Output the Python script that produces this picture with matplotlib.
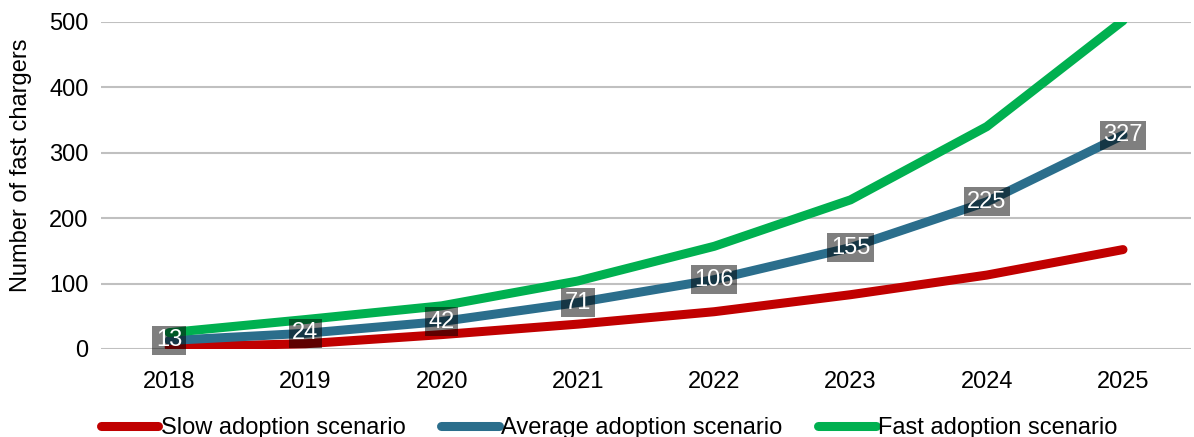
import numpy as np
import matplotlib
matplotlib.use("Agg")
import matplotlib.pyplot as plt

plt.rcParams['font.family'] = ['Liberation Sans', 'DejaVu Sans']

years = ['2018', '2019', '2020', '2021', '2022', '2023', '2024', '2025']
slow = [3, 8, 22, 38, 57, 83, 113, 152]
average = [13, 24, 42, 71, 106, 155, 225, 327]
fast = [25, 45, 66, 104, 157, 228, 340, 502]

red = '#C00000'
blue = '#2B6E8C'
green = '#00B050'
fs = 17

fig = plt.figure(figsize=(11.94, 4.37), dpi=100)
ax = fig.add_axes([0.0846, 0.2014, 0.913, 0.7483])

x = np.arange(len(years))
lw = 6.5
ax.plot(x, slow, color=red, lw=lw, solid_capstyle='round', label='Slow adoption scenario', zorder=3)
ax.plot(x, average, color=blue, lw=lw, solid_capstyle='round', label='Average adoption scenario', zorder=3)
ax.plot(x, fast, color=green, lw=lw, solid_capstyle='round', label='Fast adoption scenario', zorder=3)

for xi, v in zip(x, average):
    ax.text(xi, v, str(v), ha='center', va='center', color='white', fontsize=fs, zorder=5,
            bbox=dict(boxstyle='square,pad=0.15', facecolor='black', alpha=0.5, edgecolor='none'))

ax.set_xlim(-0.5, 7.5)
ax.set_ylim(0, 500)
ax.set_yticks([0, 100, 200, 300, 400, 500])
ax.set_xticks(x)
ax.set_xticklabels(years)
ax.grid(axis='y', color='#C0C0C0', lw=1.5)
ax.set_axisbelow(True)
for s in ax.spines.values():
    s.set_visible(False)
ax.tick_params(axis='both', length=0, labelsize=fs)
ax.tick_params(axis='x', pad=16)
ax.tick_params(axis='y', pad=9)
ax.set_ylabel('Number of fast chargers', fontsize=fs)
ax.yaxis.set_label_coords(-0.063, 0.563)

fig.legend(loc='center', bbox_to_anchor=(0.51, 0.02), ncol=3, frameon=False, fontsize=fs,
           handlelength=2.45, handletextpad=0.1, columnspacing=1.5, borderaxespad=0, borderpad=0)

fig.savefig('out.png', dpi=100)
